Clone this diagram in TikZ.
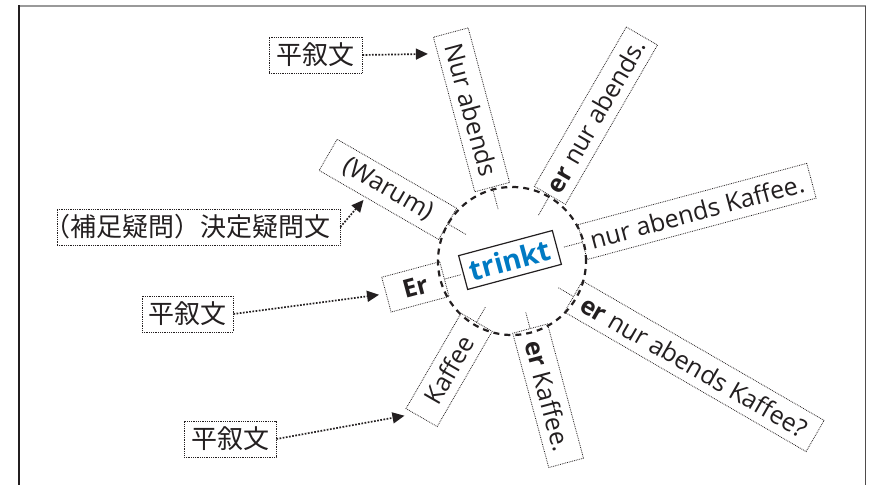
\documentclass[tikz,border=0pt]{standalone}
\usepackage{fontspec}
\newfontfamily\defont{Open Sans}
\newfontfamily\jpfont{Noto Sans CJK JP}
\usetikzlibrary{calc,arrows.meta}
\definecolor{tblue}{RGB}{0,122,195}
\definecolor{ink}{RGB}{35,31,32}
\begin{document}
\begin{tikzpicture}[x=1pt,y=1pt,
  box/.style={draw=ink, densely dotted, line width=0.8pt, inner sep=0pt, minimum height=36pt, text=ink, font=\jpfont\fontsize{26}{26}\selectfont},
  ray/.style={draw=ink, densely dotted, line width=0.8pt, inner sep=0pt, minimum height=36pt, text=ink, font=\defont\fontsize{25}{25}\selectfont},
  stub/.style={draw=ink, densely dotted, line width=0.8pt},
  arr/.style={draw=ink, line width=1.7pt, dash pattern=on 1.7pt off 1.5pt, -{Triangle[length=12pt,width=11pt]}},
  hub/.style={circle, draw=ink, line width=2.2pt, dash pattern=on 6pt off 5pt, minimum size=148pt, inner sep=0pt},
  verb/.style={draw=ink, line width=1.2pt, fill=white, rotate=15, minimum width=97pt, minimum height=35pt, inner sep=0pt, text=tblue, font=\defont\bfseries\fontsize{28.5}{28.5}\selectfont}
]
\useasboundingbox (0,0) rectangle (871,485);
% frame
\draw[line width=1.3pt, gray!80] (19,479) -- (866,479);
\draw[line width=1.1pt, ink] (19,479.6) -- (19,0);
\draw[line width=0.7pt, ink!80] (865,479) -- (865,0);

\coordinate (C) at (512,224);

% rays
\node[ray, rotate=-75, minimum width=160pt] (r105) at ($(C)+(105:156.5pt)$) {Nur abends};
\node[ray, rotate=60, minimum width=184pt] (r60) at ($(C)+(60:167.8pt)$) {\textbf{er} nur abends.};
\node[ray, rotate=15, minimum width=237pt] (r15) at ($(C)+(15:191.5pt)$) {nur abends Kaffee.};
\node[ray, rotate=-30, minimum width=279pt] (r330) at ($(C)+(-30:210.5pt)$) {\textbf{er} nur abends Kaffee?};
\node[ray, rotate=-75, minimum width=139pt] (r285) at ($(C)+(-75:139.5pt)$) {\textbf{er} Kaffee.};
\node[ray, rotate=60, minimum width=110pt] (r240) at ($(C)+(240:125.8pt)$) {Kaffee};
\node[ray, rotate=15, minimum width=60pt] (r195) at ($(C)+(195:100pt)$) {\textbf{Er}};
\node[ray, rotate=-30, minimum width=138pt] (r150) at ($(C)+(150:143.3pt)$) {(Warum)};

% stubs into the hub
\foreach \n/\a in {r105/east, r60/west, r15/west, r330/west, r285/west, r240/east, r195/east, r150/east}
  \draw[stub] (\n.\a) -- ($(C)!53pt!(\n.\a)$);

% hub and verb
\node[hub] (hub) at (C) {};
\node[verb] (v) at (510,225) {trinkt};

% labels
\node[box, minimum width=93pt] (p1) at (315.5,430) {平叙文};
\node[box, minimum width=91pt] (p2) at (187.5,171) {平叙文};
\node[box, minimum width=92pt] (p3) at (230,46) {平叙文};
\node[box] (q) at (198.5,258) {\makebox[283pt][l]{\kern-0.5em（補足疑問）決定疑問文}};

% arrow targets
\coordinate (t1) at ([xshift=-5pt,yshift=-17pt]r105.south west);
\coordinate (t2) at ([xshift=-7pt]r195.west);
\coordinate (t3) at ([xshift=-1pt,yshift=-7pt]r240.north west);
\coordinate (t4) at ($(r150.south west)!0.39!(r150.south east)$);

\draw[arr] (p1.east) -- (t1);
\draw[arr] (p2.east) -- (t2);
\draw[arr] (p3.east) -- (t3);
\draw[arr, shorten >=3pt] (q.east) -- (t4);
\end{tikzpicture}
\end{document}
